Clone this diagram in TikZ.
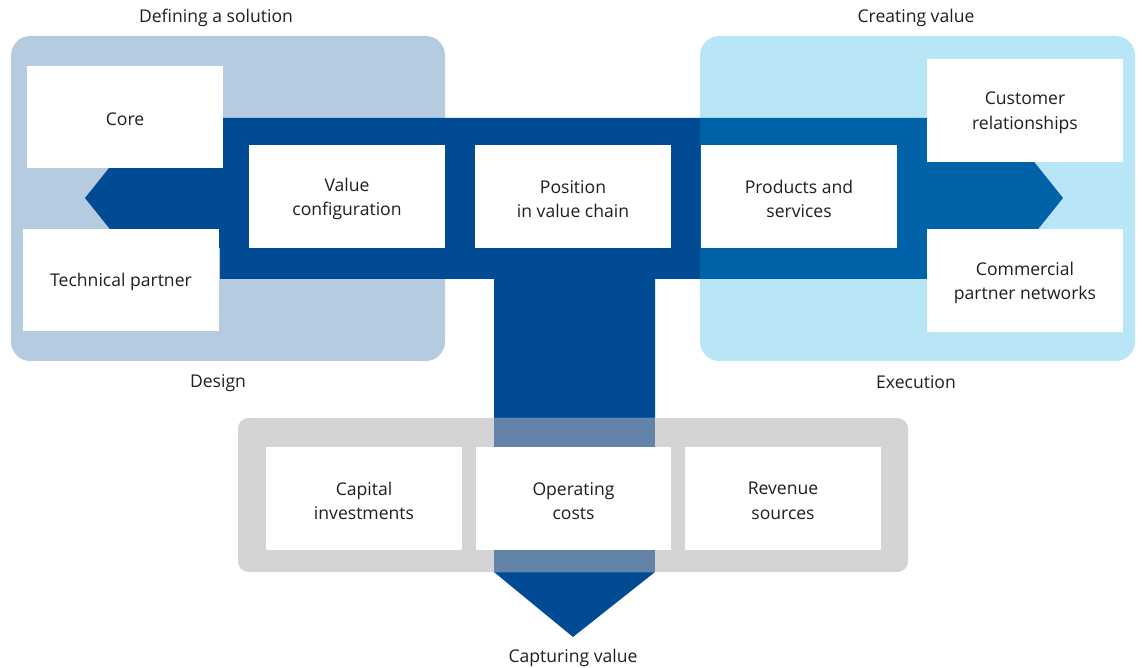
\documentclass[tikz,border=0pt]{standalone}
\usepackage{fontspec}
\setmainfont{Open Sans}
\definecolor{designbg}{HTML}{B5CBE0}
\definecolor{execbg}{HTML}{B9E6F7}
\definecolor{capbg}{HTML}{D4D4D6}
\definecolor{darkband}{HTML}{004B93}
\definecolor{lightband}{HTML}{0062A8}
\definecolor{mutedband}{HTML}{6383A8}
\definecolor{txt}{HTML}{1F1F1F}
\begin{document}
\begin{tikzpicture}[x=0.02cm,y=-0.02cm,
  every node/.style={font=\fontsize{10}{13.7}\selectfont,text=txt,align=center},
  card/.style={fill=white,minimum width=3.92cm,minimum height=2.06cm,inner sep=0pt},
  cardtext/.style={yshift=-1.3pt}]
\useasboundingbox (0,0) rectangle (1142,668);
% panels
\fill[designbg,rounded corners=11pt] (11,36) rectangle (445,361);
\fill[execbg,rounded corners=11pt] (700,36) rectangle (1135,361);
% band with arrow heads
\fill[darkband] (220,118)--(700,118)--(700,279)--(655,279)--(655,572)--(573,637)--(494,572)--(494,279)--(220,279)--(220,248)--(125,248)--(85,198)--(125,148)--(220,148)--cycle;
\fill[lightband] (700,118)--(927,118)--(927,148)--(1023,148)--(1063,198)--(1023,248)--(927,248)--(927,279)--(700,279)--cycle;
\fill[capbg,rounded corners=6pt] (238,418) rectangle (908,572);
\fill[mutedband] (494,418) rectangle (655,572);
% boxes
\node[card] (core) at (125,117) {};
\node[card] (tech) at (121,280) {};
\node[card] (valcfg) at (347,196.5) {};
\node[card] (pos) at (573,196.5) {};
\node[card] (prod) at (799,196.5) {};
\node[card] (cust) at (1025,110.5) {};
\node[card] (comm) at (1025,280.5) {};
\node[card] (capinv) at (364,498.5) {};
\node[card] (opcost) at (573.5,498.5) {};
\node[card] (revsrc) at (783,498.5) {};
% box texts
\node[cardtext] at (core) {Core};
\node[cardtext] at (tech) {Technical partner};
\node[cardtext] at (valcfg) {Value\\configuration};
\node[cardtext] at (pos) {Position\\in value chain};
\node[cardtext] at (prod) {Products and\\services};
\node[cardtext] at (cust) {Customer\\relationships};
\node[cardtext] at (comm) {Commercial\\partner networks};
\node[cardtext] at (capinv) {Capital\\investments};
\node[cardtext] at (opcost) {Operating\\costs};
\node[cardtext] at (revsrc) {Revenue\\sources};
% headings
\node (defsol) at (216,18) {Defining a solution};
\node (creval) at (916,18) {Creating value};
\node (design) at (218,383) {Design};
\node (exec) at (916,382) {Execution};
\node (capval) at (573,658) {Capturing value};
\end{tikzpicture}
\end{document}
